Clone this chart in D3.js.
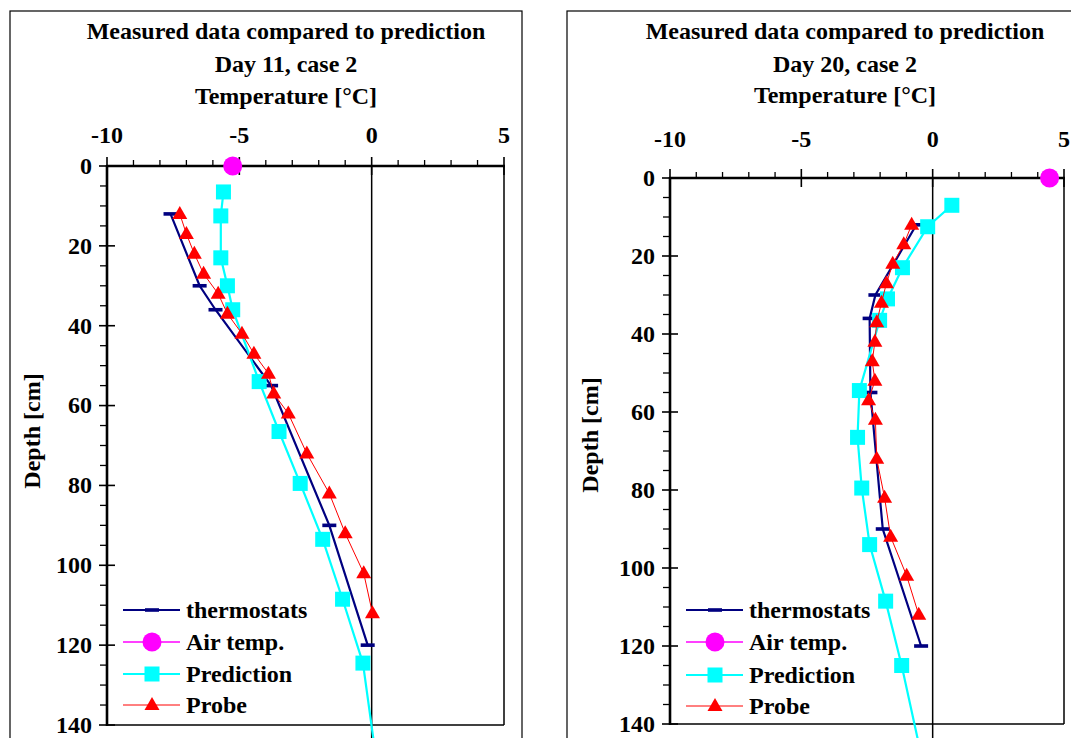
<!DOCTYPE html>
<html>
<head>
<meta charset="utf-8">
<script src="https://cdn.jsdelivr.net/npm/d3@7"></script>
<style>
  html, body { margin: 0; padding: 0; background: #fff; }
  svg { display: block; }
  text { font-family: "Liberation Serif", "Times New Roman", serif; font-weight: bold; fill: #000; }
</style>
</head>
<body>
<svg id="chart" width="1071" height="738"></svg>
<script>
// ---------- data ----------
const tempTicks = [-10, -5, 0, 5];
const depthTicks = [0, 20, 40, 60, 80, 100, 120, 140];
const seriesNames = ["thermostats", "Air temp.", "Prediction", "Probe"];
const titleLine1 = "Measured data compared to prediction";
const titleDay11 = "Day 11, case 2";
const titleDay20 = "Day 20, case 2";
const xTitle = "Temperature [°C]";
const yTitle = "Depth [cm]";

// Day 11
const d11ThermoDepth = [12, 30, 36, 55, 90, 120];
const d11ThermoTemp  = [-7.6, -6.5, -5.9, -3.8, -1.6, -0.15];
const d11AirDepth = [0];
const d11AirTemp  = [-5.25];
const d11PredDepth = [6.5, 12.5, 23, 30, 36, 54, 66.5, 79.5, 93.5, 108.5, 124.5, 150];
const d11PredTemp  = [-5.6, -5.7, -5.7, -5.45, -5.25, -4.25, -3.5, -2.7, -1.85, -1.1, -0.33, 0.2];
const d11ProbeDepth = [12, 17, 22, 27, 32, 37, 42, 47, 52, 57, 62, 72, 82, 92, 102, 112];
const d11ProbeTemp  = [-7.25, -7.0, -6.7, -6.35, -5.8, -5.45, -4.9, -4.45, -3.9, -3.7, -3.15, -2.45, -1.6, -1.0, -0.3, 0.03];

// Day 20
const d20ThermoDepth = [12, 30, 36, 55, 90, 120];
const d20ThermoTemp  = [-0.62, -2.18, -2.4, -2.37, -1.9, -0.44];
const d20AirDepth = [0];
const d20AirTemp  = [4.45];
const d20PredDepth = [7, 12.5, 23, 31, 36.5, 54.5, 66.5, 79.5, 94, 108.5, 125, 150];
const d20PredTemp  = [0.73, -0.19, -1.15, -1.72, -2.02, -2.79, -2.86, -2.7, -2.4, -1.79, -1.18, -0.37];
const d20ProbeDepth = [12, 17, 22, 27, 32, 37, 42, 47, 52, 57, 62, 72, 82, 92, 102, 112];
const d20ProbeTemp  = [-0.8, -1.1, -1.52, -1.76, -1.95, -2.13, -2.2, -2.3, -2.2, -2.44, -2.18, -2.13, -1.83, -1.6, -0.99, -0.53];

// ---------- drawing ----------
const svg = d3.select("#chart");
const zip = (d, t) => d.map((v, i) => ({ depth: v, temp: t[i] }));
const FS = 24;

function drawPanel(p) {
  const g = svg.append("g");
  // outer box
  g.append("rect").attr("x", p.box[0]).attr("y", p.box[1]).attr("width", p.box[2]).attr("height", p.box[3])
    .attr("fill", "none").attr("stroke", "#000").attr("stroke-width", 1.2);

  const x = d3.scaleLinear().domain([-10, 5]).range(p.xr);
  const y = d3.scaleLinear().domain([0, 140]).range(p.yr);

  // titles
  g.append("text").attr("x", p.tcx).attr("y", p.tb[0]).attr("text-anchor", "middle").attr("font-size", FS).text(titleLine1);
  g.append("text").attr("x", p.tcx).attr("y", p.tb[1]).attr("text-anchor", "middle").attr("font-size", FS).text(p.day);
  g.append("text").attr("x", p.tcx).attr("y", p.tb[2]).attr("text-anchor", "middle").attr("font-size", FS).text(xTitle);

  // plot frame (right and bottom thin)
  g.append("line").attr("x1", x(5)).attr("x2", x(5)).attr("y1", y(0)).attr("y2", y(140)).attr("stroke", "#000").attr("stroke-width", 1.5);
  g.append("line").attr("x1", x(-10)).attr("x2", x(5)).attr("y1", y(140)).attr("y2", y(140)).attr("stroke", "#000").attr("stroke-width", 1.5);
  // zero line
  g.append("line").attr("x1", x(0)).attr("x2", x(0)).attr("y1", y(0)).attr("y2", 745).attr("stroke", "#000").attr("stroke-width", 1.5);

  // top axis
  const minorX = d3.range(-10, 5.001, 1).filter(v => !tempTicks.includes(v));
  g.selectAll(null).data(minorX).enter().append("line")
    .attr("x1", d => x(d)).attr("x2", d => x(d)).attr("y1", y(0) - 6).attr("y2", y(0))
    .attr("stroke", "#000").attr("stroke-width", 1.3);
  g.selectAll(null).data(tempTicks).enter().append("line")
    .attr("x1", d => x(d)).attr("x2", d => x(d)).attr("y1", y(0) - 9).attr("y2", y(0) + 9)
    .attr("stroke", "#000").attr("stroke-width", 1.6);
  g.append("line").attr("x1", x(-10) - 1).attr("x2", x(5) + 1).attr("y1", y(0)).attr("y2", y(0)).attr("stroke", "#000").attr("stroke-width", 2.6);
  g.selectAll(null).data(tempTicks).enter().append("text")
    .attr("x", d => x(d)).attr("y", p.tickBase).attr("text-anchor", "middle").attr("font-size", FS)
    .text(d => String(d));

  // left axis
  const minorY = d3.range(0, 140.001, 5).filter(v => !depthTicks.includes(v));
  g.selectAll(null).data(minorY).enter().append("line")
    .attr("x1", x(-10) - 7).attr("x2", x(-10)).attr("y1", d => y(d)).attr("y2", d => y(d))
    .attr("stroke", "#000").attr("stroke-width", 1.3);
  g.selectAll(null).data(depthTicks).enter().append("line")
    .attr("x1", x(-10) - 8).attr("x2", x(-10) + 8).attr("y1", d => y(d)).attr("y2", d => y(d))
    .attr("stroke", "#000").attr("stroke-width", 1.6);
  g.append("line").attr("x1", x(-10)).attr("x2", x(-10)).attr("y1", y(0) - 1).attr("y2", y(140) + 1).attr("stroke", "#000").attr("stroke-width", 2.6);
  g.selectAll(null).data(depthTicks).enter().append("text")
    .attr("x", x(-10) - 15).attr("y", d => y(d)).attr("dy", "0.33em").attr("text-anchor", "end").attr("font-size", FS)
    .text(d => d);
  g.append("text").attr("transform", `translate(${p.ylab[0]},${p.ylab[1]}) rotate(-90)`)
    .attr("text-anchor", "middle").attr("dy", "0.33em").attr("font-size", FS).text(yTitle);

  const line = d3.line().x(d => x(d.temp)).y(d => y(d.depth));

  // thermostats
  const th = zip(p.thermoD, p.thermoT);
  g.append("path").attr("d", line(th)).attr("fill", "none").attr("stroke", "#000080").attr("stroke-width", 2.2);
  g.selectAll(null).data(th).enter().append("rect")
    .attr("x", d => x(d.temp) - 7).attr("y", d => y(d.depth) - 1.8).attr("width", 14).attr("height", 3.6).attr("fill", "#000080");
  // air temp
  const air = zip(p.airD, p.airT);
  g.selectAll(null).data(air).enter().append("circle")
    .attr("cx", d => x(d.temp)).attr("cy", d => y(d.depth)).attr("r", 9.5).attr("fill", "#FF00FF");
  // prediction
  const pr = zip(p.predD, p.predT);
  g.append("path").attr("d", line(pr)).attr("fill", "none").attr("stroke", "#00FFFF").attr("stroke-width", 2.2);
  g.selectAll(null).data(pr.filter(d => d.depth <= 140)).enter().append("rect")
    .attr("x", d => x(d.temp) - 7.5).attr("y", d => y(d.depth) - 7.5).attr("width", 15).attr("height", 15).attr("fill", "#00FFFF");
  // probe
  const pb = zip(p.probeD, p.probeT);
  g.append("path").attr("d", line(pb)).attr("fill", "none").attr("stroke", "#FF0000").attr("stroke-width", 1);
  const tri = (cx, cy) => `M${cx},${cy - 8}L${cx + 7.5},${cy + 5}L${cx - 7.5},${cy + 5}Z`;
  g.selectAll(null).data(pb).enter().append("path")
    .attr("d", d => tri(x(d.temp), y(d.depth))).attr("fill", "#FF0000");

  // legend
  const lg = g.append("g");
  const lx0 = p.leg[0], lx1 = p.leg[0] + 57, mx = p.leg[0] + 29, tx = p.leg[0] + 63;
  const colors = ["#000080", "#FF00FF", "#00FFFF", "#FF0000"];
  const widths = [2.2, 1.5, 2.2, 1];
  seriesNames.forEach((name, i) => {
    const ly = p.legY[i];
    lg.append("line").attr("x1", lx0).attr("x2", lx1).attr("y1", ly).attr("y2", ly).attr("stroke", colors[i]).attr("stroke-width", widths[i]);
    if (i === 0) lg.append("rect").attr("x", mx - 7).attr("y", ly - 1.8).attr("width", 14).attr("height", 3.6).attr("fill", colors[i]);
    if (i === 1) lg.append("circle").attr("cx", mx).attr("cy", ly).attr("r", 9.5).attr("fill", colors[i]);
    if (i === 2) lg.append("rect").attr("x", mx - 7.5).attr("y", ly - 7.5).attr("width", 15).attr("height", 15).attr("fill", colors[i]);
    if (i === 3) lg.append("path").attr("d", tri(mx, ly)).attr("fill", colors[i]);
    lg.append("text").attr("x", tx).attr("y", ly).attr("dy", "0.33em").attr("font-size", FS).text(name);
  });
}

drawPanel({
  box: [10, 11, 512, 760], xr: [107, 504], yr: [166, 725], tcx: 286, tb: [39, 72, 104], tickBase: 143,
  day: titleDay11, ylab: [32, 431], leg: [123, 0], legY: [610, 642, 674, 705],
  thermoD: d11ThermoDepth, thermoT: d11ThermoTemp, airD: d11AirDepth, airT: d11AirTemp,
  predD: d11PredDepth, predT: d11PredTemp, probeD: d11ProbeDepth, probeT: d11ProbeTemp
});
drawPanel({
  box: [567, 11, 520, 760], xr: [670, 1064], yr: [178, 724], tcx: 845, tb: [39, 72, 103], tickBase: 147,
  day: titleDay20, ylab: [590, 435], leg: [686, 0], legY: [610, 642, 675, 706],
  thermoD: d20ThermoDepth, thermoT: d20ThermoTemp, airD: d20AirDepth, airT: d20AirTemp,
  predD: d20PredDepth, predT: d20PredTemp, probeD: d20ProbeDepth, probeT: d20ProbeTemp
});
</script>
</body>
</html>
